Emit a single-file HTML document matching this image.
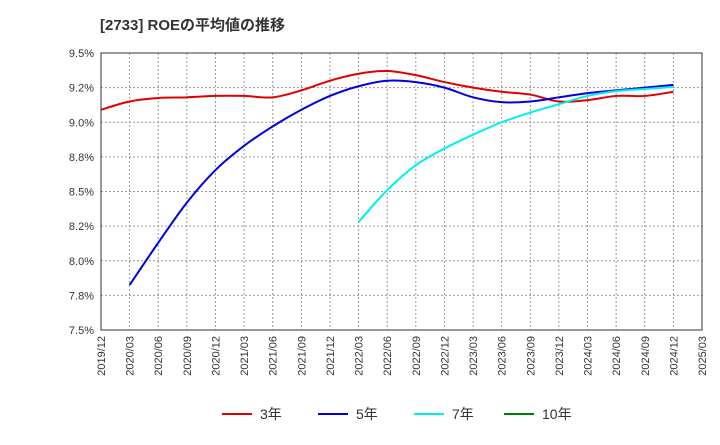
<!DOCTYPE html>
<html><head><meta charset="utf-8"><style>
body{margin:0;background:#fff;width:720px;height:440px;overflow:hidden;font-family:"Liberation Sans","Noto Sans CJK JP",sans-serif;}
</style></head><body>
<svg id="c" width="720" height="440" xmlns="http://www.w3.org/2000/svg">
<text x="100" y="30" font-size="15" font-weight="bold" fill="#333" font-family="Liberation Sans, Noto Sans CJK JP, sans-serif">[2733]  ROEの平均値の推移</text>
<g id="grid"></g><g id="series"></g><g id="axes"></g><g id="legend"></g>
</svg>
<script>
const xLabels=["2019/12","2020/03","2020/06","2020/09","2020/12","2021/03","2021/06","2021/09","2021/12","2022/03","2022/06","2022/09","2022/12","2023/03","2023/06","2023/09","2023/12","2024/03","2024/06","2024/09","2024/12","2025/03"];
const yTicks=[7.5,7.75,8.0,8.25,8.5,8.75,9.0,9.25,9.5];
const yTickLabels=["7.5%","7.8%","8.0%","8.2%","8.5%","8.8%","9.0%","9.2%","9.5%"];
const roe3=[9.09,9.15,9.175,9.18,9.19,9.19,9.18,9.23,9.30,9.35,9.37,9.34,9.29,9.25,9.22,9.20,9.15,9.16,9.19,9.19,9.22];
const roe3Start=0;
const roe5=[7.825,8.13,8.42,8.655,8.83,8.97,9.09,9.19,9.26,9.30,9.29,9.25,9.18,9.145,9.15,9.18,9.21,9.23,9.25,9.27];
const roe5Start=1;
const roe7=[8.28,8.51,8.69,8.81,8.91,9.00,9.07,9.13,9.19,9.225,9.24,9.255];
const roe7Start=9;
const L=101,R=702,T=53,B=330,yMin=7.5,yMax=9.5;
const xs=i=>L+(R-L)*i/(xLabels.length-1);
const ys=v=>B-(B-T)*(v-yMin)/(yMax-yMin);
const NS="http://www.w3.org/2000/svg";
function mk(tag,attrs,parent){const e=document.createElementNS(NS,tag);for(const k in attrs)e.setAttribute(k,attrs[k]);parent.appendChild(e);return e;}
const grid=document.getElementById('grid'),axes=document.getElementById('axes'),ser=document.getElementById('series'),leg=document.getElementById('legend');
yTicks.forEach((v,i)=>{
 const l=mk('line',{x1:L,x2:R,y1:ys(v),y2:ys(v),stroke:'#999','stroke-dasharray':'2,2','stroke-width':1},grid);
 
 
 const t=mk('text',{x:L-7,y:ys(v)+4,'text-anchor':'end','font-size':11,fill:'#333'},axes);
 t.textContent=yTickLabels[i];
 
 
});
xLabels.forEach((s,i)=>{
 const l=mk('line',{x1:xs(i),x2:xs(i),y1:T,y2:B,stroke:'#999','stroke-dasharray':'2,2','stroke-width':1},grid);
 
 
 const t=mk('text',{transform:`translate(${xs(i)+4},${B+6}) rotate(-90)`,'text-anchor':'end','font-size':11,fill:'#333'},axes);
 t.textContent=s;
 
 
});
const frame=mk('rect',{x:L,y:T,width:R-L,height:B-T,fill:'none',stroke:'#333','stroke-width':1},axes);


function path(vals,start){
 const p=vals.map((v,i)=>[xs(start+i),ys(v)]);
 let d=`M${p[0][0]},${p[0][1]}`;
 for(let i=0;i<p.length-1;i++){
  const p0=p[i-1]||p[i],p1=p[i],p2=p[i+1],p3=p[i+2]||p2;
  const c1=[p1[0]+(p2[0]-p0[0])/6,p1[1]+(p2[1]-p0[1])/6],c2=[p2[0]-(p3[0]-p1[0])/6,p2[1]-(p3[1]-p1[1])/6];
  d+=` C${c1[0]},${c1[1]} ${c2[0]},${c2[1]} ${p2[0]},${p2[1]}`;
 }
 return d;
}
[[roe3,roe3Start,'#e00000','line-3yr'],[roe5,roe5Start,'#0000e0','line-5yr'],[roe7,roe7Start,'#00f0f0','line-7yr']].forEach(s=>{
 const e=mk('path',{d:path(s[0],s[1]),fill:'none',stroke:s[2],'stroke-width':2},ser);
 
 
});
[['3年','#e00000',222],['5年','#0000e0',318],['7年','#00f0f0',414],['10年','#008000',504]].forEach(s=>{
 const l=mk('line',{x1:s[2],x2:s[2]+30,y1:414,y2:414,stroke:s[1],'stroke-width':2},leg);
 
 
 const t=mk('text',{x:s[2]+38,y:419,'font-size':14,fill:'#333'},leg);
 t.textContent=s[0];
 
 
});
</script>
</body></html>
